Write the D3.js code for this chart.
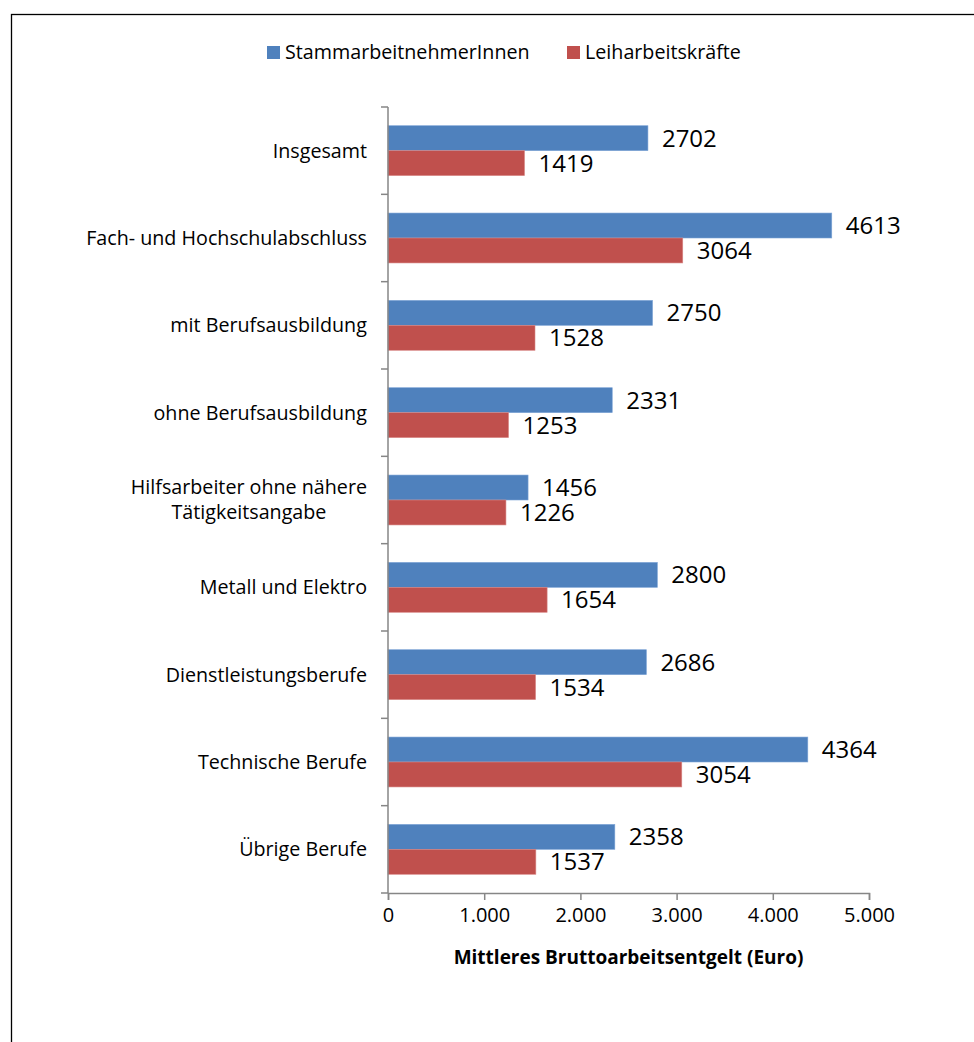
<!DOCTYPE html>
<html>
<head>
<meta charset="utf-8">
<script src="https://cdn.jsdelivr.net/npm/d3@7"></script>
<style>
  body { margin: 0; background: #fff; }
  svg text { font-family: "Open Sans", Lato, sans-serif; fill: #000; }
</style>
</head>
<body>
<div id="chart"></div>
<script>
// Data
const categories = [
    ["Insgesamt"],
    ["Fach- und Hochschulabschluss"],
    ["mit Berufsausbildung"],
    ["ohne Berufsausbildung"],
    ["Hilfsarbeiter ohne nähere", "Tätigkeitsangabe"],
    ["Metall und Elektro"],
    ["Dienstleistungsberufe"],
    ["Technische Berufe"],
    ["Übrige Berufe"]
];
const stammValues = [2702, 4613, 2750, 2331, 1456, 2800, 2686, 4364, 2358];
const leihValues = [1419, 3064, 1528, 1253, 1226, 1654, 1534, 3054, 1537];
const seriesNames = ["StammarbeitnehmerInnen", "Leiharbeitskräfte"];
const seriesColors = ["#4F81BD", "#C0504D"];
const xTicks = [0, 1000, 2000, 3000, 4000, 5000];
const xTitle = "Mittleres Bruttoarbeitsentgelt (Euro)";

const width = 974, height = 1042;
const plot = {left: 388, right: 869, top: 107, bottom: 893};
const fontSize = 19.7;

const svg = d3.select('#chart').append('svg')
    .attr('width', width)
    .attr('height', height);

// outer frame
svg.append('rect')
    .attr('x', 11.5).attr('y', 14.5)
    .attr('width', 1000).attr('height', 1100)
    .attr('fill', 'none')
    .attr('stroke', '#000')
    .attr('stroke-width', 1.3);

const xScale = d3.scaleLinear()
    .domain([0, 5000])
    .range([plot.left, plot.right]);

const yScale = d3.scaleBand()
    .domain(d3.range(categories.length))
    .range([plot.top, plot.bottom]);

const innerScale = d3.scaleBand()
    .domain([0, 1])
    .range([0, yScale.bandwidth()])
    .paddingOuter(0.75);

const fmt = d3.formatLocale({decimal: ",", thousands: ".", grouping: [3], currency: ["", "€"]}).format(",");

// bars
const series = [stammValues, leihValues];
series.forEach((vals, s) => {
    const g = svg.append('g');
    g.selectAll('rect')
        .data(vals)
        .enter()
        .append('rect')
        .attr('x', xScale(0))
        .attr('y', (d, i) => yScale(i) + innerScale(s))
        .attr('width', d => xScale(d) - xScale(0))
        .attr('height', innerScale.bandwidth())
        .attr('fill', seriesColors[s])
        .attr('stroke', s === 0 ? '#7da4d6' : '#d88886')
        .attr('stroke-width', 0.6);

    g.selectAll('text')
        .data(vals)
        .enter()
        .append('text')
        .attr('x', d => xScale(d) + 14)
        .attr('y', (d, i) => yScale(i) + innerScale(s) + innerScale.bandwidth() / 2)
        .attr('dy', '0.36em')
        .style('font-size', '24px')
        .text(d => d);
});

// y axis
const yAxis = svg.append('g');
yAxis.append('line')
    .attr('x1', plot.left).attr('x2', plot.left)
    .attr('y1', plot.top).attr('y2', plot.bottom)
    .attr('stroke', '#868686').attr('stroke-width', 1.5);
yAxis.selectAll('.ytick')
    .data(d3.range(categories.length + 1))
    .enter()
    .append('line')
    .attr('x1', plot.left - 7).attr('x2', plot.left)
    .attr('y1', i => i < categories.length ? yScale(i) : plot.bottom)
    .attr('y2', i => i < categories.length ? yScale(i) : plot.bottom)
    .attr('stroke', '#868686').attr('stroke-width', 1.5);

// category labels (multi-line labels centered on each other, block right aligned)
categories.forEach((lines, i) => {
    const cy = yScale(i) + yScale.bandwidth() / 2;
    const t = svg.append('text')
        .style('font-size', fontSize + 'px')
        .attr('text-anchor', 'middle');
    const lh = 25;
    lines.forEach((line, k) => {
        t.append('tspan')
            .attr('x', 0)
            .attr('y', cy + (k - (lines.length - 1) / 2) * lh)
            .attr('dy', '0.35em')
            .text(line);
    });
    const bw = t.node().getBBox().width;
    t.selectAll('tspan').attr('x', 367 - bw / 2);
});

// x axis
const xAxis = svg.append('g')
    .attr('transform', `translate(0,${plot.bottom})`)
    .call(d3.axisBottom(xScale).tickValues(xTicks).tickSize(7).tickPadding(8).tickFormat(fmt));
xAxis.select('.domain').attr('stroke', '#868686').attr('stroke-width', 1.5);
xAxis.selectAll('.tick line').attr('stroke', '#868686').attr('stroke-width', 1.5);
xAxis.selectAll('.tick text')
    .style('font-size', '20px')
    .style('font-family', '"Open Sans", Lato, sans-serif')
    .attr('fill', '#000');

svg.append('text')
    .attr('x', (plot.left + plot.right) / 2)
    .attr('y', 957)
    .attr('dy', '0.35em')
    .attr('text-anchor', 'middle')
    .style('font-size', '19px')
    .style('font-weight', 'bold')
    .text(xTitle);

// legend
const legendX = [267, 567];
seriesNames.forEach((name, s) => {
    svg.append('rect')
        .attr('x', legendX[s]).attr('y', 46)
        .attr('width', 13).attr('height', 13)
        .attr('fill', seriesColors[s]);
    svg.append('text')
        .attr('x', legendX[s] + 18)
        .attr('y', 52)
        .attr('dy', '0.35em')
        .style('font-size', fontSize + 'px')
        .text(name);
});
</script>
</body>
</html>
